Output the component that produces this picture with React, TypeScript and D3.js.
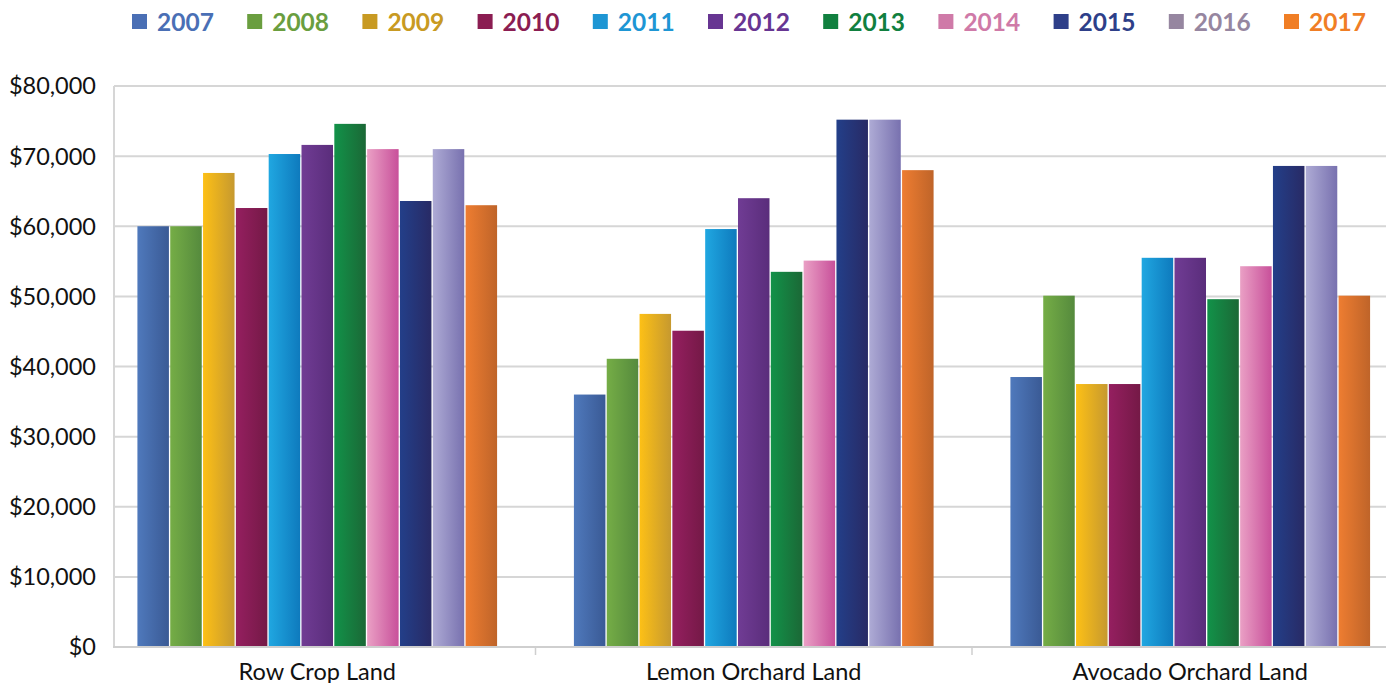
import React, { useEffect, useRef } from 'react';
import * as d3 from 'd3';

const categories = ['Row Crop Land', 'Lemon Orchard Land', 'Avocado Orchard Land'];
const years = ['2007', '2008', '2009', '2010', '2011', '2012', '2013', '2014', '2015', '2016', '2017'];

// values per year, in category order
const rowCrop = [60000, 60000, 67600, 62600, 70300, 71600, 74600, 71000, 63600, 71000, 63000];
const lemon = [36000, 41100, 47500, 45100, 59600, 64000, 53500, 55100, 75200, 75200, 68000];
const avocado = [38500, 50100, 37500, 37500, 55500, 55500, 49600, 54300, 68600, 68600, 50100];

const yTicks = [0, 10000, 20000, 30000, 40000, 50000, 60000, 70000, 80000];

const legendColors = ['#4a6fb5', '#6a9e3f', '#c89a22', '#8b1d52', '#1e96d4', '#673592', '#11803f', '#cf7aa8', '#2e3f89', '#9686a0', '#f07e25'];
const gradLeft = ['#4f79bc', '#75ad46', '#fdc016', '#951f60', '#20a7e1', '#703c94', '#129249', '#eaa0c5', '#233f89', '#aeabd5', '#ee7d31'];
const gradRight = ['#3a5a95', '#558a3d', '#c6992f', '#741946', '#0e7abd', '#5a2d7b', '#1b6836', '#c8509a', '#282a65', '#7871af', '#bf6429'];

const App: React.FC = () => {
  const svgRef = useRef<SVGSVGElement>(null);

  useEffect(() => {
    if (!svgRef.current) return;
    const width = 1386;
    const height = 683;
    const plotLeft = 114;
    const plotRight = 1386;
    const font = 'Lato, "Open Sans", sans-serif';

    const svg = d3.select(svgRef.current);
    svg.selectAll('*').remove();
    svg.attr('width', width).attr('height', height);

    const values = [rowCrop, lemon, avocado];

    const x0 = d3.scaleBand<string>()
      .domain(categories)
      .range([99, 1408.5])
      .paddingInner(0.17)
      .paddingOuter(0.085);

    const x1 = d3.scaleBand<string>()
      .domain(years)
      .range([0, x0.bandwidth()])
      .padding(0.04);

    const y = d3.scaleLinear().domain([0, 80000]).range([647, 86]);

    const defs = svg.append('defs');
    years.forEach((yr, i) => {
      const g = defs.append('linearGradient')
        .attr('id', `grad${yr}`)
        .attr('x1', '0%').attr('x2', '100%')
        .attr('y1', '0%').attr('y2', '0%');
      g.append('stop').attr('offset', '0%').attr('stop-color', gradLeft[i]);
      g.append('stop').attr('offset', '100%').attr('stop-color', gradRight[i]);
    });

    // gridlines
    svg.append('g')
      .selectAll('line')
      .data(yTicks.filter(t => t > 0))
      .enter()
      .append('line')
      .attr('x1', plotLeft)
      .attr('x2', plotRight)
      .attr('y1', d => y(d))
      .attr('y2', d => y(d))
      .attr('stroke', '#d6d6d6')
      .attr('stroke-width', 2);

    // y labels
    svg.append('g')
      .selectAll('text')
      .data(yTicks)
      .enter()
      .append('text')
      .attr('x', 96)
      .attr('y', d => y(d))
      .attr('dy', '0.36em')
      .attr('text-anchor', 'end')
      .attr('font-family', font)
      .attr('font-size', 23.5)
      .attr('fill', '#111')
      .text(d => d3.format('$,')(d));

    // bars
    categories.forEach((cat, ci) => {
      const g = svg.append('g').attr('transform', `translate(${x0(cat)},0)`);
      g.selectAll('rect')
        .data(years.map((yr, i) => ({ yr, v: values[ci][i] })))
        .enter()
        .append('rect')
        .attr('x', d => x1(d.yr)!)
        .attr('width', x1.bandwidth())
        .attr('y', d => y(d.v))
        .attr('height', d => y(0) - y(d.v))
        .attr('fill', d => `url(#grad${d.yr})`);
    });

    // axes lines
    svg.append('line')
      .attr('x1', plotLeft).attr('x2', plotLeft)
      .attr('y1', y(80000)).attr('y2', y(0) + 1)
      .attr('stroke', '#d6d6d6').attr('stroke-width', 2);
    svg.append('line')
      .attr('x1', plotLeft - 1).attr('x2', plotRight)
      .attr('y1', y(0)).attr('y2', y(0))
      .attr('stroke', '#cfcfcf').attr('stroke-width', 2);

    // category boundary ticks
    categories.slice(1).forEach(cat => {
      const bx = x0(cat)! - (x0.step() - x0.bandwidth()) / 2;
      svg.append('line')
        .attr('x1', bx).attr('x2', bx)
        .attr('y1', y(0)).attr('y2', y(0) + 8)
        .attr('stroke', '#cfcfcf').attr('stroke-width', 1.5);
    });

    // x labels
    svg.append('g')
      .selectAll('text')
      .data(categories)
      .enter()
      .append('text')
      .attr('x', d => x0(d)! + x0.bandwidth() / 2)
      .attr('y', 680)
      .attr('text-anchor', 'middle')
      .attr('font-family', font)
      .attr('font-size', 23.5)
      .attr('fill', '#111')
      .text(d => d);

    // legend
    const legend = svg.append('g');
    const item = legend.selectAll('g')
      .data(years)
      .enter()
      .append('g')
      .attr('transform', (d, i) => `translate(${132 + i * 115.2},0)`);
    item.append('rect')
      .attr('x', 0).attr('y', 14)
      .attr('width', 15).attr('height', 15)
      .attr('fill', (d, i) => legendColors[i]);
    item.append('text')
      .attr('x', 25)
      .attr('y', 22)
      .attr('dy', '0.36em')
      .attr('font-family', font)
      .attr('font-weight', 700)
      .attr('font-size', 24.5)
      .attr('fill', (d, i) => legendColors[i])
      .text(d => d);
  }, []);

  return (
    <div style={{ position: 'absolute', left: 0, top: 0, background: '#fff' }}>
      <svg ref={svgRef}></svg>
    </div>
  );
};

export default App;
